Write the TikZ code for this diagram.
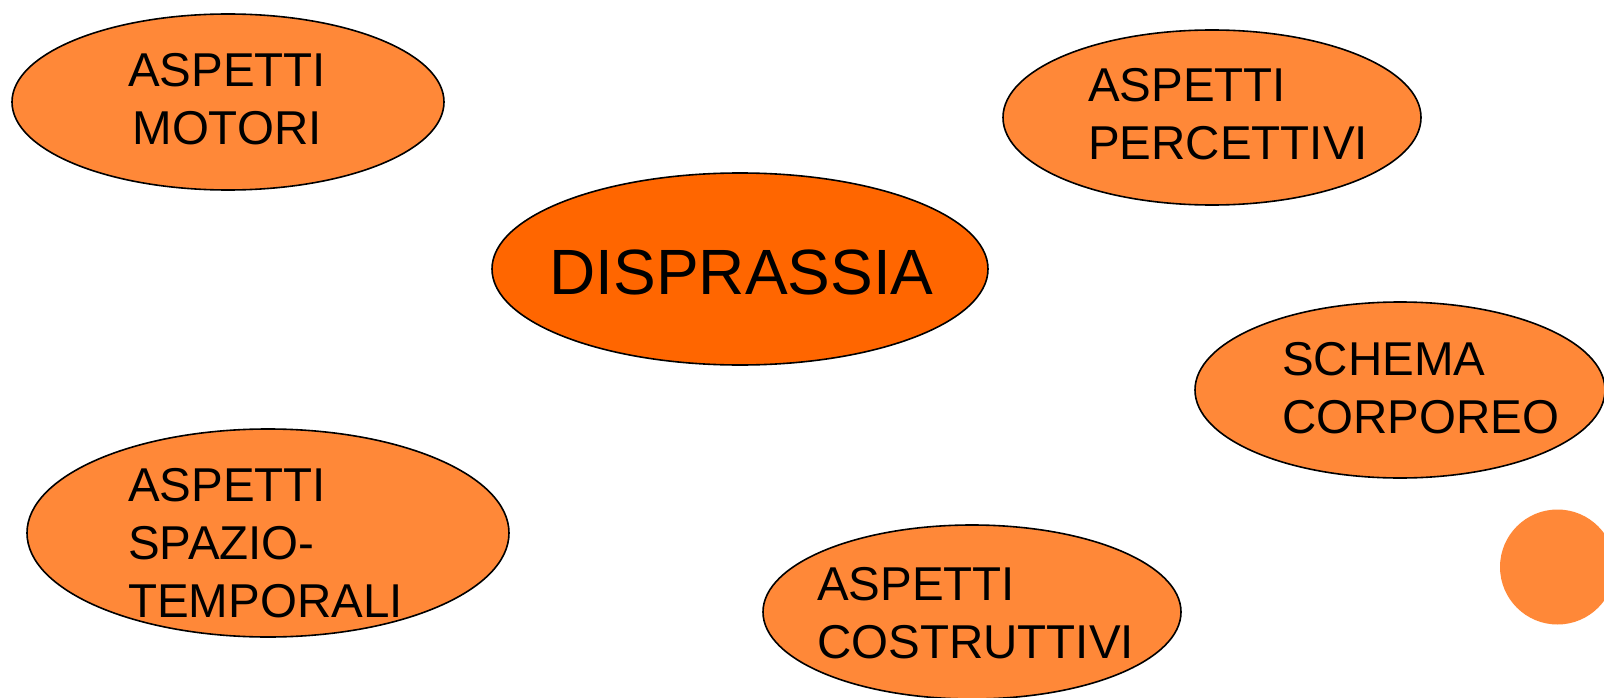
\documentclass[tikz,border=0pt]{standalone}
\usepackage{fontspec}
\setmainfont{Liberation Sans}
\usetikzlibrary{shapes.geometric}
\definecolor{arancio}{RGB}{255,136,56}
\definecolor{arancioscuro}{RGB}{255,102,0}
\tikzset{
    blob/.style={
           ellipse,
           draw=black, line width=1.6pt,
           fill=arancio,
           inner sep=0pt,
           },
    core/.style={
           blob,
           fill=arancioscuro,
           },
    lbl/.style={
           inner sep=0pt,
           align=left,
           font=\fontsize{47.5}{58}\selectfont,
           },
}

\begin{document}
\begin{tikzpicture}[x=1pt,y=-1pt]
\useasboundingbox (0,0) rectangle (1604,698);
\clip (0,0) rectangle (1604,698);
\fill[white] (0,0) rectangle (1604,698);
% the six bubbles
\node[blob, minimum width=432, minimum height=176] (motori) at (228,102) {};
\node[blob, minimum width=418, minimum height=175] (percettivi) at (1212,117.5) {};
\node[core, minimum width=496, minimum height=192] (disprassia) at (740,269) {};
\node[blob, minimum width=410, minimum height=176] (schema) at (1400,390) {};
\node[blob, minimum width=482, minimum height=208] (spazio) at (268,533) {};
\node[blob, minimum width=418, minimum height=174] (costruttivi) at (972,612) {};
% the round dot on the right
\fill[arancio] (1557.5,567) circle (57.5);
% labels
\node[lbl, align=center, anchor=north] (motori-txt) at (227,53) {ASPETTI\\MOTORI};
\node[lbl, anchor=north west] (percettivi-txt) at (1088,68) {ASPETTI\\PERCETTIVI};
\node[inner sep=0pt, font=\fontsize{64}{70}\selectfont, anchor=base] (disprassia-txt) at (741.5,294) {DISPRASSIA};
\node[lbl, anchor=north west] (schema-txt) at (1282,342) {SCHEMA\\CORPOREO};
\node[lbl, anchor=north west] (spazio-txt) at (128,468) {ASPETTI\\SPAZIO-\\TEMPORALI};
\node[lbl, anchor=north west] (costruttivi-txt) at (817,567) {ASPETTI\\COSTRUTTIVI};
\end{tikzpicture}
\end{document}
